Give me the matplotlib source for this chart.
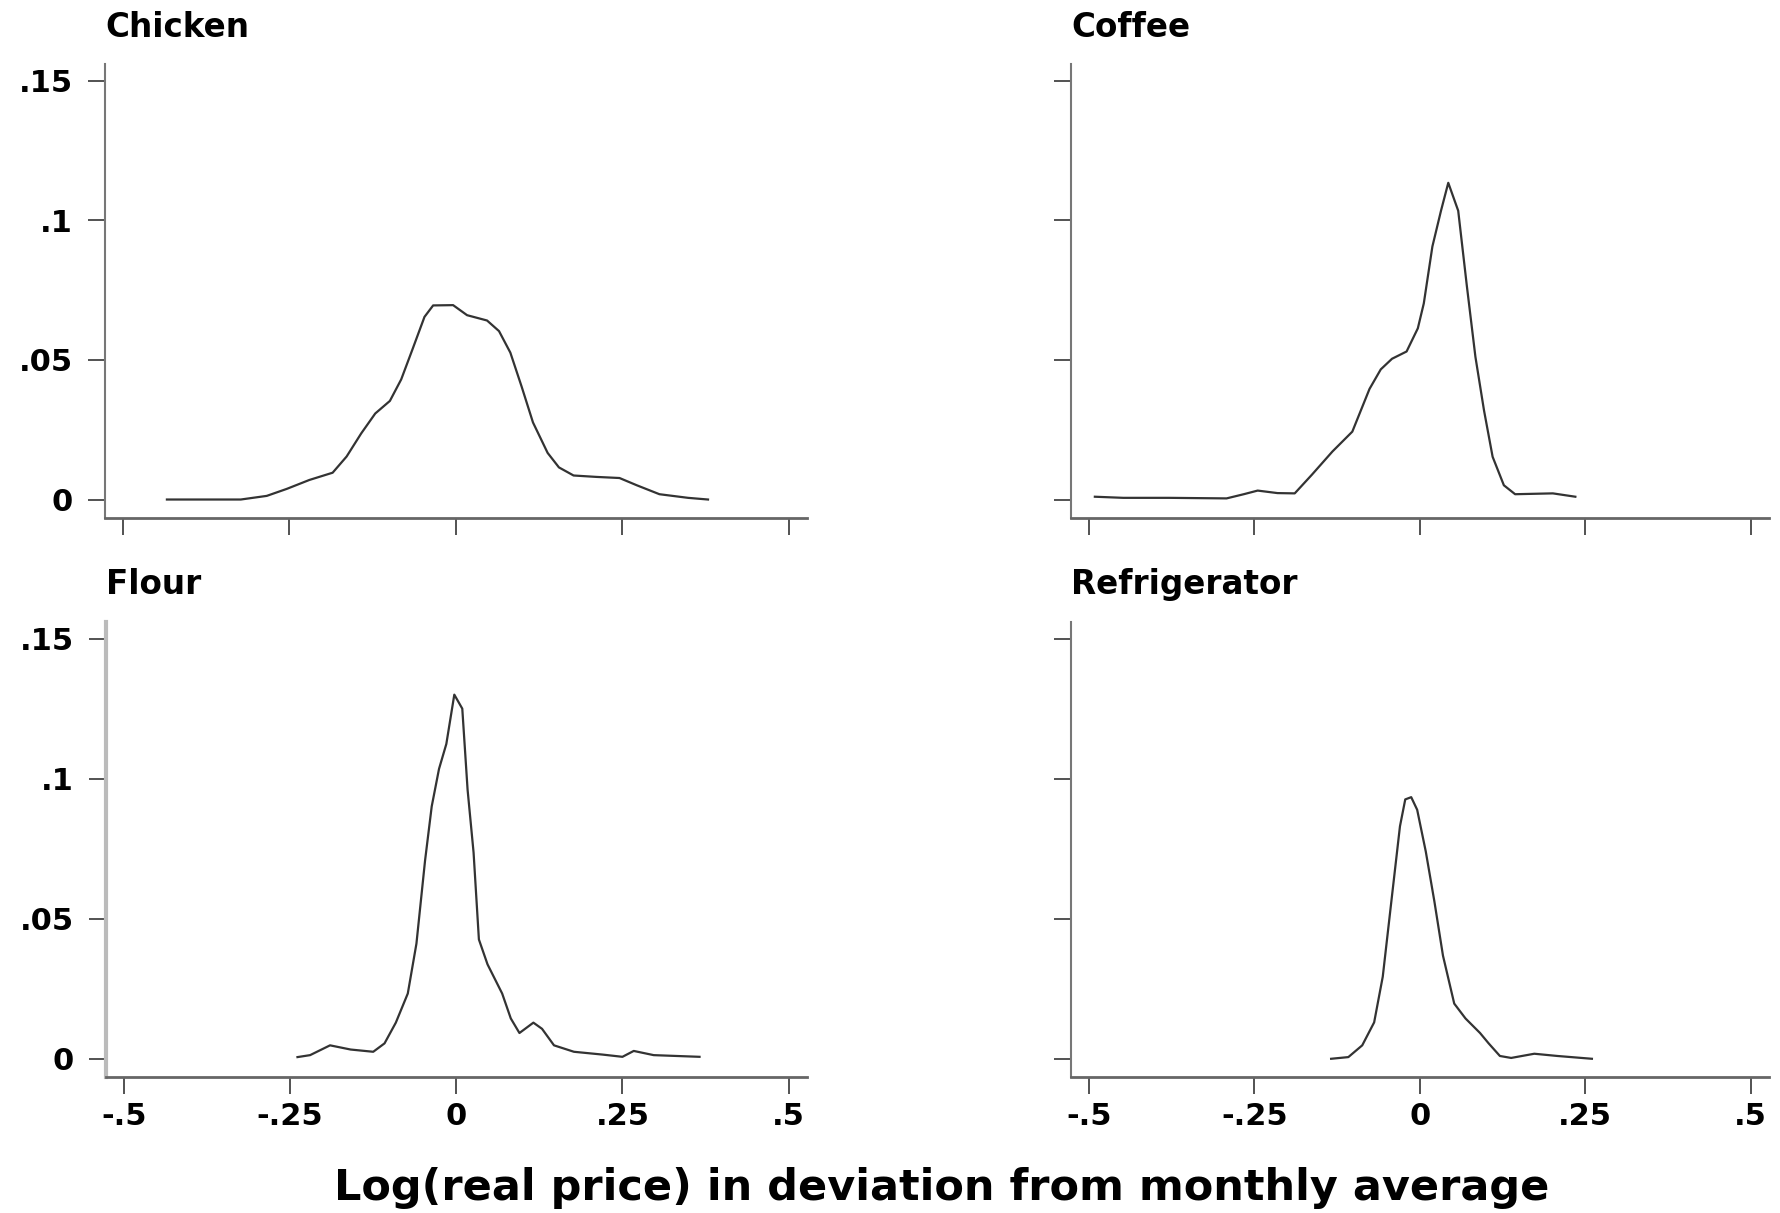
import matplotlib
matplotlib.use("Agg")
import matplotlib.pyplot as plt

# ---- data (kernel density of log price deviations) ----
chicken_x = [-0.434, -0.323, -0.284, -0.254, -0.22, -0.185, -0.164, -0.142, -0.121, -0.099,
             -0.082, -0.065, -0.047, -0.034, -0.004, 0.017, 0.047, 0.065, 0.082, 0.099,
             0.116, 0.138, 0.155, 0.177, 0.211, 0.246, 0.272, 0.306, 0.349, 0.379]
chicken_y = [0.0, 0.0, 0.0013, 0.0038, 0.007, 0.0096, 0.0154, 0.0237, 0.0308, 0.0353,
             0.043, 0.0538, 0.0654, 0.0695, 0.0696, 0.066, 0.0641, 0.0603, 0.0526, 0.0404,
             0.0276, 0.0167, 0.0115, 0.0086, 0.0081, 0.0077, 0.0051, 0.0019, 0.0006, 0.0]

coffee_x = [-0.491, -0.448, -0.379, -0.292, -0.266, -0.245, -0.215, -0.189, -0.163, -0.132,
            -0.102, -0.076, -0.059, -0.042, -0.020, -0.003, 0.006, 0.019, 0.032, 0.043,
            0.058, 0.071, 0.084, 0.097, 0.110, 0.127, 0.144, 0.201, 0.235]
coffee_y = [0.001, 0.0006, 0.0006, 0.0004, 0.0019, 0.0032, 0.0023, 0.0022, 0.0089, 0.0172,
            0.0243, 0.0396, 0.0466, 0.0504, 0.053, 0.0613, 0.0702, 0.0906, 0.1034, 0.1134,
            0.1034, 0.0766, 0.0511, 0.0319, 0.0153, 0.0051, 0.0019, 0.0022, 0.001]

flour_x = [-0.239, -0.220, -0.190, -0.159, -0.125, -0.108, -0.091, -0.073, -0.060, -0.047,
           -0.037, -0.026, -0.015, -0.003, 0.009, 0.017, 0.026, 0.034, 0.047, 0.069,
           0.082, 0.095, 0.116, 0.129, 0.147, 0.177, 0.220, 0.250, 0.267, 0.297, 0.366]
flour_y = [0.0006, 0.0013, 0.0048, 0.0033, 0.0025, 0.0055, 0.0129, 0.0233, 0.0411, 0.0708,
           0.0901, 0.1035, 0.1124, 0.13, 0.125, 0.096, 0.0736, 0.0426, 0.0337, 0.0233,
           0.0144, 0.0092, 0.0129, 0.0107, 0.0048, 0.0025, 0.0015, 0.0007, 0.0028, 0.0013, 0.0007]

fridge_x = [-0.134, -0.108, -0.087, -0.069, -0.056, -0.043, -0.030, -0.022, -0.013, -0.004,
            0.009, 0.022, 0.035, 0.052, 0.069, 0.091, 0.104, 0.121, 0.138, 0.173, 0.208, 0.260]
fridge_y = [0.0, 0.0006, 0.0048, 0.013, 0.0293, 0.0562, 0.083, 0.0926, 0.0934, 0.0889,
            0.074, 0.0562, 0.0368, 0.0197, 0.0144, 0.0092, 0.0055, 0.001, 0.0003, 0.0018, 0.001, 0.0]

titles = ["Chicken", "Coffee", "Flour", "Refrigerator"]
xticks = [-0.5, -0.25, 0, 0.25, 0.5]
xtick_labels = ["-.5", "-.25", "0", ".25", ".5"]
yticks = [0, 0.05, 0.1, 0.15]
ytick_labels = ["0", ".05", ".1", ".15"]
xlabel = "Log(real price) in deviation from monthly average"

plt.rcParams['font.family'] = ['DejaVu Sans']

fig = plt.figure(figsize=(17.8, 12.13), dpi=100)

# axes boxes in figure fractions: [left, bottom, width, height]
boxes = [[0.0590, 0.5730, 0.3941, 0.3746],
         [0.6017, 0.5730, 0.3919, 0.3746],
         [0.0596, 0.1119, 0.3935, 0.3757],
         [0.6017, 0.1119, 0.3919, 0.3757]]
curves = [(chicken_x, chicken_y), (coffee_x, coffee_y),
          (flour_x, flour_y), (fridge_x, fridge_y)]
title_y = [0.9695, 0.9695, 0.5103, 0.5103]

for i in range(4):
    ax = fig.add_axes(boxes[i])
    x, y = curves[i]
    ax.plot(x, y, color='#333333', lw=1.6)
    ax.set_xlim(-0.527, 0.527)
    ax.set_ylim(-0.0066, 0.1561)
    for s in ['top', 'right']:
        ax.spines[s].set_visible(False)
    ax.spines['left'].set_color('#777777')
    ax.spines['bottom'].set_color('#666666')
    ax.spines['left'].set_linewidth(1.5)
    ax.spines['bottom'].set_linewidth(2.0)
    if i == 2:
        ax.spines['left'].set_color('#bbbbbb')
        ax.spines['left'].set_linewidth(3.0)
    ax.set_xticks(xticks)
    ax.set_yticks(yticks)
    ax.tick_params(axis='both', direction='out', length=12, width=1.3,
                   color='#444444', labelsize=22)
    ax.tick_params(axis='y', pad=11)
    ax.tick_params(axis='x', pad=6)
    if i in (0, 2):
        ax.set_yticklabels(ytick_labels, fontweight='bold')
    else:
        ax.set_yticklabels([])
    if i in (2, 3):
        ax.set_xticklabels(xtick_labels, fontweight='bold')
    else:
        ax.set_xticklabels([])
    fig.text(boxes[i][0], title_y[i], titles[i], fontsize=23.5, fontweight='bold',
             va='baseline', ha='left')

fig.text(0.529, 0.0107, xlabel, fontsize=31, fontweight='bold', ha='center', va='baseline')

fig.savefig('out.png', dpi=100)
